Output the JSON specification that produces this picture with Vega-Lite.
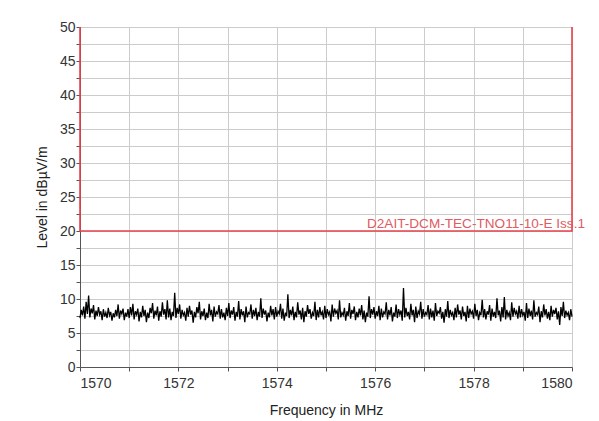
{
"$schema": "https://vega.github.io/schema/vega-lite/v6.json",
"width": 492, "height": 340,
"autosize": "none",
"padding": {"left": 80, "top": 27, "right": 27, "bottom": 54},
"background": "white",
"config": {
  "view": {"stroke": "#cccccc"},
  "font": "Liberation Sans",
  "axis": {"labelFont": "Liberation Sans", "titleFont": "Liberation Sans", "labelFontSize": 14, "titleFontSize": 14, "titleFontWeight": "normal", "labelColor": "#333333", "titleColor": "#222222", "gridColor": "#cccccc", "domainColor": "#555555", "tickColor": "#555555", "tickSize": 4}
},
"datasets": {
  "limit": [
    {"f": 1570, "v": 50, "o": 1},
    {"f": 1570, "v": 20, "o": 2},
    {"f": 1580, "v": 20, "o": 3},
    {"f": 1580, "v": 50, "o": 4}
  ],
  "label": [{"f": 1580, "v": 20, "t": "D2AIT-DCM-TEC-TNO11-10-E Iss.1"}],
  "noise": [
{"f":1570,"v":7.2},{"f":1570.025,"v":8.4},{"f":1570.05,"v":7.6},{"f":1570.075,"v":8.9},{"f":1570.1,"v":7.1},{"f":1570.125,"v":9.6},{"f":1570.15,"v":7.8},{"f":1570.175,"v":10.5},{"f":1570.2,"v":7.3},{"f":1570.225,"v":8.6},{"f":1570.25,"v":7.9},{"f":1570.275,"v":9.1},{"f":1570.3,"v":7.0},{"f":1570.325,"v":8.3},{"f":1570.35,"v":7.5},{"f":1570.375,"v":8.8},{"f":1570.4,"v":7.7},{"f":1570.425,"v":8.2},{"f":1570.45,"v":6.9},{"f":1570.475,"v":8.5},{"f":1570.5,"v":7.4},{"f":1570.525,"v":8.0},{"f":1570.55,"v":7.2},{"f":1570.575,"v":8.7},{"f":1570.6,"v":7.6},{"f":1570.625,"v":8.1},{"f":1570.65,"v":6.8},{"f":1570.675,"v":7.9},{"f":1570.7,"v":7.3},{"f":1570.725,"v":8.4},{"f":1570.75,"v":7.5},{"f":1570.775,"v":9.2},{"f":1570.8,"v":7.1},{"f":1570.825,"v":8.3},{"f":1570.85,"v":7.8},{"f":1570.875,"v":8.6},{"f":1570.9,"v":6.9},{"f":1570.925,"v":8.0},{"f":1570.95,"v":7.4},{"f":1570.975,"v":8.5},
{"f":1571,"v":7.2},{"f":1571.025,"v":8.8},{"f":1571.05,"v":7.6},{"f":1571.075,"v":9.3},{"f":1571.1,"v":7.0},{"f":1571.125,"v":8.2},{"f":1571.15,"v":7.7},{"f":1571.175,"v":8.6},{"f":1571.2,"v":6.7},{"f":1571.225,"v":8.1},{"f":1571.25,"v":7.3},{"f":1571.275,"v":9.0},{"f":1571.3,"v":7.5},{"f":1571.325,"v":8.4},{"f":1571.35,"v":6.6},{"f":1571.375,"v":8.0},{"f":1571.4,"v":7.2},{"f":1571.425,"v":8.7},{"f":1571.45,"v":7.9},{"f":1571.475,"v":9.4},{"f":1571.5,"v":7.1},{"f":1571.525,"v":8.3},{"f":1571.55,"v":7.6},{"f":1571.575,"v":8.9},{"f":1571.6,"v":6.8},{"f":1571.625,"v":8.2},{"f":1571.65,"v":7.4},{"f":1571.675,"v":9.5},{"f":1571.7,"v":7.7},{"f":1571.725,"v":8.5},{"f":1571.75,"v":7.0},{"f":1571.775,"v":9.8},{"f":1571.8,"v":7.3},{"f":1571.825,"v":8.6},{"f":1571.85,"v":6.9},{"f":1571.875,"v":8.1},{"f":1571.9,"v":7.5},{"f":1571.925,"v":10.9},{"f":1571.95,"v":7.2},{"f":1571.975,"v":8.7},
{"f":1572,"v":7.8},{"f":1572.025,"v":9.2},{"f":1572.05,"v":7.1},{"f":1572.075,"v":8.4},{"f":1572.1,"v":7.6},{"f":1572.125,"v":8.0},{"f":1572.15,"v":6.8},{"f":1572.175,"v":8.7},{"f":1572.2,"v":7.4},{"f":1572.225,"v":9.0},{"f":1572.25,"v":7.7},{"f":1572.275,"v":8.3},{"f":1572.3,"v":6.5},{"f":1572.325,"v":8.1},{"f":1572.35,"v":7.3},{"f":1572.375,"v":8.8},{"f":1572.4,"v":7.9},{"f":1572.425,"v":9.6},{"f":1572.45,"v":7.0},{"f":1572.475,"v":8.2},{"f":1572.5,"v":7.5},{"f":1572.525,"v":8.6},{"f":1572.55,"v":6.9},{"f":1572.575,"v":8.0},{"f":1572.6,"v":7.2},{"f":1572.625,"v":9.3},{"f":1572.65,"v":7.6},{"f":1572.675,"v":8.4},{"f":1572.7,"v":6.7},{"f":1572.725,"v":8.9},{"f":1572.75,"v":7.4},{"f":1572.775,"v":8.1},{"f":1572.8,"v":7.8},{"f":1572.825,"v":9.1},{"f":1572.85,"v":7.1},{"f":1572.875,"v":8.5},{"f":1572.9,"v":7.3},{"f":1572.925,"v":8.0},{"f":1572.95,"v":6.9},{"f":1572.975,"v":8.7},
{"f":1573,"v":7.5},{"f":1573.025,"v":9.4},{"f":1573.05,"v":7.2},{"f":1573.075,"v":8.3},{"f":1573.1,"v":7.7},{"f":1573.125,"v":8.8},{"f":1573.15,"v":6.8},{"f":1573.175,"v":8.1},{"f":1573.2,"v":7.4},{"f":1573.225,"v":9.7},{"f":1573.25,"v":7.0},{"f":1573.275,"v":8.5},{"f":1573.3,"v":7.6},{"f":1573.325,"v":8.2},{"f":1573.35,"v":6.6},{"f":1573.375,"v":8.9},{"f":1573.4,"v":7.3},{"f":1573.425,"v":8.0},{"f":1573.45,"v":7.8},{"f":1573.475,"v":9.2},{"f":1573.5,"v":7.1},{"f":1573.525,"v":8.4},{"f":1573.55,"v":7.5},{"f":1573.575,"v":8.7},{"f":1573.6,"v":6.9},{"f":1573.625,"v":8.1},{"f":1573.65,"v":7.4},{"f":1573.675,"v":10.1},{"f":1573.7,"v":7.2},{"f":1573.725,"v":8.6},{"f":1573.75,"v":7.7},{"f":1573.775,"v":8.3},{"f":1573.8,"v":6.7},{"f":1573.825,"v":8.0},{"f":1573.85,"v":7.3},{"f":1573.875,"v":9.0},{"f":1573.9,"v":7.6},{"f":1573.925,"v":8.5},{"f":1573.95,"v":7.0},{"f":1573.975,"v":8.8},
{"f":1574,"v":7.4},{"f":1574.025,"v":8.2},{"f":1574.05,"v":7.8},{"f":1574.075,"v":9.3},{"f":1574.1,"v":7.1},{"f":1574.125,"v":8.6},{"f":1574.15,"v":6.8},{"f":1574.175,"v":8.0},{"f":1574.2,"v":7.5},{"f":1574.225,"v":10.7},{"f":1574.25,"v":7.2},{"f":1574.275,"v":8.4},{"f":1574.3,"v":7.6},{"f":1574.325,"v":8.9},{"f":1574.35,"v":6.9},{"f":1574.375,"v":8.1},{"f":1574.4,"v":7.3},{"f":1574.425,"v":9.5},{"f":1574.45,"v":7.7},{"f":1574.475,"v":8.3},{"f":1574.5,"v":7.0},{"f":1574.525,"v":8.7},{"f":1574.55,"v":6.6},{"f":1574.575,"v":8.2},{"f":1574.6,"v":7.4},{"f":1574.625,"v":9.1},{"f":1574.65,"v":7.8},{"f":1574.675,"v":8.5},{"f":1574.7,"v":7.1},{"f":1574.725,"v":8.0},{"f":1574.75,"v":7.5},{"f":1574.775,"v":9.6},{"f":1574.8,"v":6.9},{"f":1574.825,"v":8.4},{"f":1574.85,"v":7.3},{"f":1574.875,"v":8.8},{"f":1574.9,"v":7.6},{"f":1574.925,"v":8.1},{"f":1574.95,"v":7.0},{"f":1574.975,"v":9.0},
{"f":1575,"v":7.2},{"f":1575.025,"v":8.5},{"f":1575.05,"v":7.7},{"f":1575.075,"v":8.1},{"f":1575.1,"v":6.7},{"f":1575.125,"v":9.2},{"f":1575.15,"v":7.4},{"f":1575.175,"v":8.6},{"f":1575.2,"v":7.9},{"f":1575.225,"v":8.3},{"f":1575.25,"v":7.0},{"f":1575.275,"v":9.8},{"f":1575.3,"v":7.3},{"f":1575.325,"v":8.0},{"f":1575.35,"v":7.6},{"f":1575.375,"v":8.7},{"f":1575.4,"v":6.8},{"f":1575.425,"v":8.2},{"f":1575.45,"v":7.5},{"f":1575.475,"v":9.4},{"f":1575.5,"v":7.1},{"f":1575.525,"v":8.4},{"f":1575.55,"v":7.8},{"f":1575.575,"v":8.9},{"f":1575.6,"v":6.9},{"f":1575.625,"v":8.1},{"f":1575.65,"v":7.3},{"f":1575.675,"v":8.6},{"f":1575.7,"v":7.6},{"f":1575.725,"v":9.1},{"f":1575.75,"v":7.0},{"f":1575.775,"v":8.3},{"f":1575.8,"v":6.6},{"f":1575.825,"v":8.0},{"f":1575.85,"v":7.4},{"f":1575.875,"v":10.4},{"f":1575.9,"v":7.2},{"f":1575.925,"v":8.5},{"f":1575.95,"v":7.7},{"f":1575.975,"v":8.8},
{"f":1576,"v":7.1},{"f":1576.025,"v":8.2},{"f":1576.05,"v":7.5},{"f":1576.075,"v":9.0},{"f":1576.1,"v":6.9},{"f":1576.125,"v":8.6},{"f":1576.15,"v":7.3},{"f":1576.175,"v":8.1},{"f":1576.2,"v":7.8},{"f":1576.225,"v":9.5},{"f":1576.25,"v":7.0},{"f":1576.275,"v":8.4},{"f":1576.3,"v":7.6},{"f":1576.325,"v":8.8},{"f":1576.35,"v":6.7},{"f":1576.375,"v":8.0},{"f":1576.4,"v":7.4},{"f":1576.425,"v":9.2},{"f":1576.45,"v":7.2},{"f":1576.475,"v":8.5},{"f":1576.5,"v":7.7},{"f":1576.525,"v":8.3},{"f":1576.55,"v":6.8},{"f":1576.575,"v":11.6},{"f":1576.6,"v":7.3},{"f":1576.625,"v":8.7},{"f":1576.65,"v":7.5},{"f":1576.675,"v":8.1},{"f":1576.7,"v":7.0},{"f":1576.725,"v":9.3},{"f":1576.75,"v":7.6},{"f":1576.775,"v":8.4},{"f":1576.8,"v":6.6},{"f":1576.825,"v":8.9},{"f":1576.85,"v":7.2},{"f":1576.875,"v":8.2},{"f":1576.9,"v":7.8},{"f":1576.925,"v":9.6},{"f":1576.95,"v":7.1},{"f":1576.975,"v":8.5},
{"f":1577,"v":7.4},{"f":1577.025,"v":8.0},{"f":1577.05,"v":7.7},{"f":1577.075,"v":9.1},{"f":1577.1,"v":7.0},{"f":1577.125,"v":8.6},{"f":1577.15,"v":7.3},{"f":1577.175,"v":8.3},{"f":1577.2,"v":6.8},{"f":1577.225,"v":9.4},{"f":1577.25,"v":7.5},{"f":1577.275,"v":8.2},{"f":1577.3,"v":7.9},{"f":1577.325,"v":8.8},{"f":1577.35,"v":7.1},{"f":1577.375,"v":8.1},{"f":1577.4,"v":6.5},{"f":1577.425,"v":8.5},{"f":1577.45,"v":7.4},{"f":1577.475,"v":9.7},{"f":1577.5,"v":7.2},{"f":1577.525,"v":8.4},{"f":1577.55,"v":7.6},{"f":1577.575,"v":8.0},{"f":1577.6,"v":6.9},{"f":1577.625,"v":8.7},{"f":1577.65,"v":7.3},{"f":1577.675,"v":9.2},{"f":1577.7,"v":7.7},{"f":1577.725,"v":8.3},{"f":1577.75,"v":7.0},{"f":1577.775,"v":8.9},{"f":1577.8,"v":7.5},{"f":1577.825,"v":8.1},{"f":1577.85,"v":6.7},{"f":1577.875,"v":9.0},{"f":1577.9,"v":7.2},{"f":1577.925,"v":8.6},{"f":1577.95,"v":7.8},{"f":1577.975,"v":8.2},
{"f":1578,"v":7.1},{"f":1578.025,"v":9.3},{"f":1578.05,"v":7.5},{"f":1578.075,"v":8.4},{"f":1578.1,"v":6.9},{"f":1578.125,"v":8.0},{"f":1578.15,"v":7.6},{"f":1578.175,"v":9.9},{"f":1578.2,"v":7.3},{"f":1578.225,"v":8.5},{"f":1578.25,"v":7.0},{"f":1578.275,"v":8.2},{"f":1578.3,"v":7.7},{"f":1578.325,"v":9.1},{"f":1578.35,"v":6.8},{"f":1578.375,"v":8.6},{"f":1578.4,"v":7.4},{"f":1578.425,"v":8.1},{"f":1578.45,"v":7.2},{"f":1578.475,"v":10.1},{"f":1578.5,"v":7.6},{"f":1578.525,"v":8.3},{"f":1578.55,"v":6.7},{"f":1578.575,"v":8.8},{"f":1578.6,"v":7.3},{"f":1578.625,"v":10.3},{"f":1578.65,"v":7.0},{"f":1578.675,"v":8.4},{"f":1578.7,"v":7.5},{"f":1578.725,"v":8.0},{"f":1578.75,"v":6.9},{"f":1578.775,"v":9.5},{"f":1578.8,"v":7.4},{"f":1578.825,"v":8.7},{"f":1578.85,"v":7.8},{"f":1578.875,"v":8.2},{"f":1578.9,"v":7.1},{"f":1578.925,"v":9.0},{"f":1578.95,"v":7.3},{"f":1578.975,"v":8.5},
{"f":1579,"v":7.6},{"f":1579.025,"v":8.1},{"f":1579.05,"v":6.8},{"f":1579.075,"v":9.4},{"f":1579.1,"v":7.2},{"f":1579.125,"v":8.6},{"f":1579.15,"v":7.5},{"f":1579.175,"v":8.3},{"f":1579.2,"v":7.0},{"f":1579.225,"v":9.8},{"f":1579.25,"v":7.4},{"f":1579.275,"v":8.0},{"f":1579.3,"v":7.7},{"f":1579.325,"v":8.9},{"f":1579.35,"v":6.6},{"f":1579.375,"v":8.2},{"f":1579.4,"v":7.3},{"f":1579.425,"v":9.2},{"f":1579.45,"v":7.6},{"f":1579.475,"v":8.5},{"f":1579.5,"v":7.1},{"f":1579.525,"v":8.1},{"f":1579.55,"v":6.9},{"f":1579.575,"v":9.0},{"f":1579.6,"v":7.4},{"f":1579.625,"v":8.4},{"f":1579.65,"v":7.8},{"f":1579.675,"v":8.7},{"f":1579.7,"v":7.0},{"f":1579.725,"v":8.2},{"f":1579.75,"v":6.2},{"f":1579.775,"v":8.8},{"f":1579.8,"v":7.5},{"f":1579.825,"v":9.6},{"f":1579.85,"v":7.2},{"f":1579.875,"v":8.3},{"f":1579.9,"v":7.6},{"f":1579.925,"v":8.0},{"f":1579.95,"v":6.9},{"f":1579.975,"v":8.5},{"f":1580,"v":7.4}
  ]
},
"encoding": {
  "x": {"field": "f", "type": "quantitative", "scale": {"domain": [1570, 1580], "nice": false},
        "axis": {"title": "Frequency in MHz", "values": [1570,1571,1572,1573,1574,1575,1576,1577,1578,1579,1580], "labelExpr": "datum.value % 2 == 0 ? datum.label : ''", "format": "d", "labelPadding": 5, "titlePadding": 13}},
  "y": {"field": "v", "type": "quantitative", "scale": {"domain": [0, 50], "nice": false},
        "axis": {"title": "Level in dBµV/m", "values": [0,2.5,5,7.5,10,12.5,15,17.5,20,22.5,25,27.5,30,32.5,35,37.5,40,42.5,45,47.5,50], "labelExpr": "datum.value % 5 == 0 ? datum.label : ''", "labelPadding": 1, "titlePadding": 10}}
},
"layer": [
  {"data": {"name": "noise"}, "mark": {"type": "line", "color": "black", "strokeWidth": 1.3, "interpolate": "linear"}},
  {"data": {"name": "limit"}, "mark": {"type": "line", "color": "#e8424a", "strokeWidth": 1.6}, "encoding": {"order": {"field": "o", "type": "quantitative"}}},
  {"data": {"name": "label"}, "mark": {"type": "text", "align": "right", "baseline": "alphabetic", "dx": 13, "dy": -3, "fontSize": 13.6, "font": "Liberation Sans", "color": "#e05a62"}, "encoding": {"text": {"field": "t"}}}
]
}
